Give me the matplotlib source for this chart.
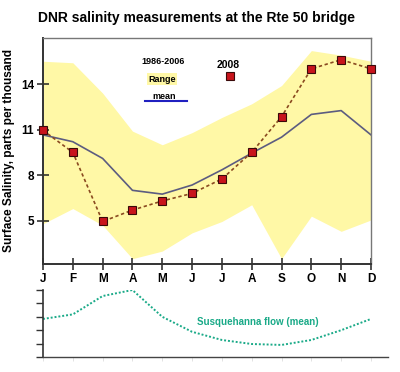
import matplotlib
matplotlib.use("Agg")
import matplotlib.pyplot as plt
from matplotlib.patches import Rectangle
import numpy as np

plt.rcParams['font.family'] = ['Liberation Sans', 'DejaVu Sans']

months = ["J", "F", "M", "A", "M", "J", "J", "A", "S", "O", "N", "D"]
range_upper = [15.5, 15.4, 13.4, 10.9, 10.0, 10.8, 11.8, 12.7, 13.9, 16.2, 15.9, 15.5]
range_lower = [4.8, 5.8, 4.7, 2.5, 3.0, 4.2, 4.95, 6.05, 2.5, 5.3, 4.3, 5.05]
mean_1986_2006 = [10.65, 10.2, 9.1, 7.0, 6.75, 7.35, 8.35, 9.45, 10.5, 12.0, 12.25, 10.65]
sal_2008 = [10.95, 9.5, 4.95, 5.7, 6.3, 6.8, 7.75, 9.5, 11.85, 15.0, 15.6, 15.0]
flow_mean = [2.84, 3.18, 4.55, 5.0, 3.0, 1.88, 1.27, 0.97, 0.9, 1.27, 2.0, 2.84]
yticks = [5, 8, 11, 14]

W, H = 400, 372
fig = plt.figure(figsize=(W / 100, H / 100), dpi=100)

def frac(l, t, r, b):
    return [l / W, (H - b) / H, (r - l) / W, (b - t) / H]

x = np.arange(len(months))

ax = fig.add_axes(frac(43, 38, 371, 264))
ax.set_xlim(0, 11)
ax.set_ylim(2.15, 17.03)
ax.fill_between(x, range_lower, range_upper, color='#fff8a6', lw=0, zorder=1)
ax.plot(x, mean_1986_2006, color='#5c5c80', lw=1.2, zorder=2)
ax.plot(x, sal_2008, color='#8a4a20', lw=1.2, ls=(0, (2, 1.6)), zorder=3)
ax.plot(x, sal_2008, ls='none', marker='s', ms=5.5, mfc='#c8141c', mec='#3a0a0a',
        mew=0.8, zorder=4, clip_on=False)

ax.set_xticks(x)
ax.set_xticklabels(months, fontsize=8.5, fontweight='bold')
ax.set_yticks(yticks)
ax.set_yticklabels([str(v) for v in yticks], fontsize=8.5, fontweight='bold')
ax.tick_params(axis='both', direction='inout', length=9, width=1.1, color='#222222')
ax.tick_params(axis='x', pad=2)
ax.tick_params(axis='y', pad=2)
for s in ['top', 'right']:
    ax.spines[s].set_color('#777777')
    ax.spines[s].set_linewidth(1.0)
for s in ['left', 'bottom']:
    ax.spines[s].set_color('#333333')
    ax.spines[s].set_linewidth(1.4)

ax.set_ylabel("Surface Salinity, parts per thousand", fontsize=8.6, fontweight='bold', labelpad=4)

# legend-like annotations
ax.text(4.02, 15.45, "1986-2006", fontsize=6.5, fontweight='bold', ha='center', va='center')
ax.add_patch(Rectangle((3.49, 13.93), 1.01, 0.79, color='#fff8a6', lw=0, zorder=1))
ax.text(4.0, 14.33, "Range", fontsize=6.5, fontweight='bold', ha='center', va='center')
ax.text(4.05, 13.21, "mean", fontsize=6.5, fontweight='bold', ha='center', va='center')
ax.plot([3.42, 4.83], [12.9, 12.9], color='#2020c0', lw=1.5)
ax.text(6.2, 15.25, "2008", fontsize=7.5, fontweight='bold', ha='center', va='center')
ax.plot([6.27], [14.53], ls='none', marker='s', ms=5.5, mfc='#c8141c', mec='#3a0a0a', mew=0.8)

fig.text(197 / W, 1 - 18 / H, "DNR salinity measurements at the Rte 50 bridge",
         fontsize=10, fontweight='bold', ha='center', va='center')

# lower flow panel
ax2 = fig.add_axes(frac(43, 290, 388, 357))
ax2.set_xlim(0, 11.57)
ax2.set_ylim(0, 5)
ax2.plot(x, flow_mean, color='#1aaa88', lw=1.4, ls=(0, (1, 1)))
ax2.set_yticks([0, 1, 2, 3, 4, 5])
ax2.set_yticklabels([])
ax2.set_xticks(x)
ax2.set_xticklabels([])
ax2.tick_params(axis='y', direction='out', length=5, width=1.0, color='#333333')
ax2.tick_params(axis='x', direction='out', length=3, width=0.6, color='#dddddd')
for s in ['top', 'right']:
    ax2.spines[s].set_visible(False)
ax2.spines['left'].set_color('#333333')
ax2.spines['bottom'].set_color('#444444')
ax2.spines['left'].set_linewidth(1.2)
ax2.spines['bottom'].set_linewidth(1.0)
ax2.text(7.2, 2.6, "Susquehanna flow (mean)", fontsize=7, fontweight='bold',
         color='#1aaa88', ha='center', va='center')

fig.savefig("out.png", dpi=100)
